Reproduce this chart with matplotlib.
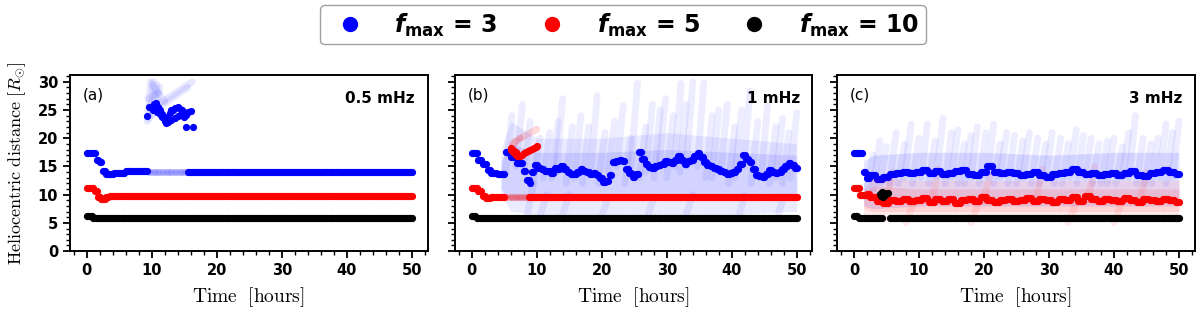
import numpy as np
import matplotlib
matplotlib.use("Agg")
import matplotlib.pyplot as plt
from matplotlib.font_manager import FontProperties
from matplotlib.lines import Line2D
from matplotlib.ticker import MultipleLocator

# ---------------- data ----------------
panel_tags = ["(a)", "(b)", "(c)"]
panel_freqs = ["0.5 mHz", "1 mHz", "3 mHz"]
legend_labels = [r"$\mathbfit{f}_{\mathbf{max}}$ = 3",
                 r"$\mathbfit{f}_{\mathbf{max}}$ = 5",
                 r"$\mathbfit{f}_{\mathbf{max}}$ = 10"]

# sampling of the simulated time series [hours]
time = np.arange(0, 50.01, 0.25)

# step-wise levels: value holds until the matching "end" time
a_black_lev = [6.3, 5.8]
a_black_end = [0.8, 51]
a_red_lev = [11.2, 10.6, 9.6, 9.3, 9.5, 9.7]
a_red_end = [1.2, 1.7, 2.2, 2.8, 3.3, 51]
a_blue_lev = [17.4, 16.2, 15.7, 14.2, 13.6, 13.9, 14.2, 14.1]
a_blue_end = [1.5, 1.9, 2.3, 3.0, 4.2, 6.0, 9.3, 51]
a_blue_faint = (9.3, 15.4)   # window where the main blue track is faint

# panel (a) blue cluster above 20 Rsun
a_clu_t = [9.2, 9.5, 10.0, 10.3, 10.6, 11.0, 11.3, 11.6, 12.0, 12.2, 12.5, 12.8,
           13.0, 13.3, 13.6, 14.0, 14.3, 14.6, 15.0, 15.3, 15.6, 16.0, 12.0, 12.5,
           13.0, 13.5, 14.0, 14.5, 15.0, 10.2, 10.8, 11.2, 11.5, 15.2, 16.3]
a_clu_r = [24.0, 25.5, 25.5, 26.0, 26.2, 25.5, 25.0, 24.3, 23.8, 22.7, 23.5, 24.5,
           25.0, 25.0, 25.3, 25.5, 25.2, 25.0, 24.5, 24.2, 24.6, 24.8, 23.0, 22.8,
           23.2, 23.5, 24.0, 24.2, 23.8, 25.0, 24.7, 24.3, 23.8, 22.0, 22.0]
# faint segments of panel (a)
a_seg_t0 = [9.3, 9.6, 10.0, 10.5, 11.0, 11.2, 10.0, 9.4]
a_seg_r0 = [23.0, 23.5, 24.0, 25.0, 26.0, 25.5, 29.5, 27.0]
a_seg_t1 = [9.8, 10.3, 10.8, 11.2, 16.2, 15.5, 12.0, 11.0]
a_seg_r1 = [30.0, 30.0, 29.5, 29.0, 30.0, 29.0, 26.5, 28.0]

b_black_lev = [6.3, 5.9, 5.8]
b_black_end = [0.6, 8.5, 51]
b_red_lev = [11.2, 10.6, 9.8, 9.4, 9.6, 9.5, 9.6]
b_red_end = [1.0, 1.6, 2.2, 3.0, 4.0, 5.0, 51]
b_red_faint = (5.0, 8.7)
b_red_clu_t = [6.0, 6.3, 6.6, 6.9, 7.2, 7.5, 7.8, 8.1, 8.4, 8.7, 9.0, 9.3, 9.6,
               9.9, 10.1, 6.1, 6.4, 6.8]
b_red_clu_r = [17.9, 17.6, 17.2, 16.9, 16.8, 16.9, 17.1, 17.3, 17.5, 17.7, 17.9,
               18.1, 18.3, 18.5, 18.6, 18.3, 17.9, 17.5]
b_red_seg_t0 = [6.2, 6.3, 7.5]
b_red_seg_r0 = [19.0, 18.3, 20.0]
b_red_seg_t1 = [7.5, 6.8, 10.0]
b_red_seg_r1 = [20.0, 19.5, 21.6]

b_blue_early_lev = [17.4, 16.2, 15.4, 14.3, 13.8, 13.6, 17.6, 16.6, 15.6, 14.2, 12.6]
b_blue_early_end = [1.0, 1.6, 2.3, 3.0, 4.0, 5.2, 5.8, 7.0, 7.8, 8.3, 9.0]
# half-hourly values of the blue track, t = 9 .. 50 h
b_blue_half = [12.0, 14.0, 15.2, 14.8, 14.6, 14.2, 14.2, 13.9, 14.8, 14.5, 15.0,
               14.6, 14.0, 13.7, 13.6, 14.1, 14.5, 14.2, 14.0, 13.6, 13.8, 13.4,
               13.0, 12.2, 12.5, 13.4, 15.8, 16.0, 16.2, 15.9, 14.5, 13.8, 13.2,
               13.6, 17.5, 16.4, 15.5, 14.9, 14.8, 15.1, 15.2, 15.5, 16.0, 15.7,
               15.6, 16.1, 16.8, 16.2, 15.4, 15.9, 16.2, 16.8, 17.3, 16.6, 15.8,
               15.3, 15.0, 14.7, 14.5, 14.2, 14.0, 13.7, 13.8, 14.1, 14.6, 15.4,
               17.0, 16.4, 15.8, 14.6, 13.5, 13.3, 13.2, 13.6, 14.3, 14.0, 13.8,
               14.1, 14.5, 15.0, 15.6, 15.2, 14.8]
# faint cloud: envelope and rising streaks (start time, low, high)
b_cloud_t = [4.5, 6, 10, 20, 30, 40, 50]
b_cloud_lo = [10.0, 7.0, 6.5, 6.5, 6.5, 6.5, 7.0]
b_cloud_hi = [18.0, 23.0, 20.0, 20.0, 21.0, 20.0, 19.0]
b_core_lo = [11.0, 9.0, 9.0, 9.0, 9.0, 9.0, 9.5]
b_core_hi = [16.0, 19.0, 17.5, 17.5, 18.0, 17.5, 17.0]
b_st_t = [5.2, 6.8, 8.0, 9.5, 11.0, 12.3, 13.0, 14.5, 15.8, 17.0, 18.3, 19.5, 21.0,
          22.3, 23.5, 24.5, 25.8, 26.8, 28.0, 28.8, 30.0, 31.2, 32.0, 33.0, 34.7,
          36.0, 37.0, 38.3, 39.5, 40.5, 41.8, 43.0, 44.5, 45.8, 46.8, 47.8, 49.0,
          8.5, 10.5, 14.0, 20.0, 27.0, 33.0, 41.0, 47.0]
b_st_lo = [14, 15, 14, 12, 13, 13, 14, 12, 13, 12, 14, 12, 14, 15, 12, 15, 13, 14,
           13, 15, 13, 15, 14, 15, 15, 13, 13, 14, 12, 13, 15, 12, 13, 12, 13, 12,
           13, 6.0, 6.0, 6.5, 6.2, 6.0, 6.5, 6.0, 6.0]
b_st_hi = [24, 26, 23, 20, 21, 23, 27, 22, 24, 22, 27.5, 21, 23, 25.8, 20, 29.7,
           22, 26, 25, 27, 24, 29.7, 26, 30, 29.8, 24, 25, 26, 22, 25, 28.4, 23,
           25.8, 22, 23.5, 21, 24.5, 12, 10, 10, 9.5, 9.5, 10, 9.8, 9.6]

c_black_lev = [6.3, 5.9, 5.8]
c_black_end = [0.6, 2.0, 51]
c_black_gap = (4.4, 5.3)
c_black_clu_t = [4.0, 4.2, 4.4, 4.6, 4.8, 5.0, 5.2, 4.3, 4.7]
c_black_clu_r = [10.2, 9.8, 9.6, 9.7, 9.9, 10.1, 10.3, 10.4, 10.3]
c_blue_early_lev = [17.4, 14.0]
c_blue_early_end = [1.4, 1.9]
# hourly values, t = 2 .. 50 h
c_blue_hourly = [13.0, 13.5, 12.8, 13.2, 13.6, 13.9, 14.1, 13.8, 14.0, 14.3, 13.9,
                 14.2, 13.6, 13.9, 14.2, 14.4, 13.7, 13.4, 14.0, 15.0, 14.1, 13.8,
                 14.0, 13.9, 13.5, 13.7, 14.1, 13.4, 13.2, 13.6, 13.9, 14.0, 14.5,
                 14.0, 13.6, 13.8, 13.4, 13.7, 13.9, 13.5, 13.8, 14.2, 13.5, 13.3,
                 13.8, 14.0, 14.3, 14.1, 13.7]
c_red_early_lev = [11.2, 10.0]
c_red_early_end = [1.0, 1.9]
c_red_hourly = [10.2, 9.6, 8.8, 8.6, 9.0, 8.9, 9.3, 8.8, 9.1, 9.4, 8.7, 9.2, 8.9,
                9.3, 8.6, 9.0, 9.2, 8.8, 9.5, 9.0, 8.7, 9.1, 9.3, 8.9, 9.0, 9.4,
                8.8, 9.2, 9.0, 8.7, 9.3, 9.1, 9.5, 8.9, 9.8, 9.2, 8.8, 9.3, 9.0,
                8.9, 9.4, 9.1, 8.7, 9.2, 9.0, 8.8, 9.3, 9.1, 8.7]
c_cloud_t = [1.5, 3, 10, 20, 30, 40, 50]
c_blue_lo = [8.0, 7.5, 8.0, 8.0, 8.0, 8.0, 8.0]
c_blue_hi = [16.0, 17.0, 17.5, 17.5, 17.0, 17.5, 17.5]
c_red_lo = [6.5, 5.5, 5.5, 5.5, 5.5, 5.5, 5.5]
c_red_hi = [11.0, 13.0, 12.5, 12.5, 12.5, 12.5, 12.5]
c_redcore_lo = [7.5, 7.0, 7.0, 7.0, 7.0, 7.0, 7.0]
c_redcore_hi = [10.5, 11.5, 11.0, 11.0, 11.0, 11.0, 11.0]
c_st_t = [2.0, 3.0, 4.0, 5.5, 6.8, 7.8, 9.0, 10.3, 11.5, 12.7, 14.0, 15.0, 16.0,
          17.0, 18.0, 19.3, 20.5, 21.5, 22.5, 23.7, 25.0, 26.0, 27.3, 28.5, 29.5,
          30.8, 32.0, 33.2, 34.3, 35.5, 36.7, 38.0, 39.0, 40.3, 41.3, 42.3, 43.5,
          44.7, 45.8, 47.0, 48.0, 49.0]
c_st_lo = [11, 11, 12, 12, 12, 13, 12, 13, 12, 13, 12, 13, 12, 12, 13, 12, 13, 12,
           13, 12, 12, 13, 12, 12, 13, 12, 12, 13, 12, 13, 12, 12, 12, 12, 13, 13,
           12, 12, 12, 13, 12, 13]
c_st_hi = [17, 19.5, 18.5, 21, 19, 22.5, 20, 22.5, 19.5, 23.5, 21, 21.5, 19, 20.5,
           22, 21, 22.5, 19, 21, 20.5, 19.5, 21, 20, 19, 21, 20, 19, 21.5, 20.5,
           20, 19, 19.5, 20, 18.5, 21, 24, 20, 19, 20, 22.5, 21, 23]
c_rst_t = [5, 12, 20, 28, 36, 44, 8, 18, 33, 40]
c_rst_lo = [9, 9, 9, 9, 9, 9, 5, 5, 5, 5]
c_rst_hi = [14, 14.5, 14, 14.5, 15, 14, 8, 8, 8, 8]

BLUE, RED, BLACK = "#0000ff", "#ff0000", "#000000"
MS = 27          # marker area of the main tracks
TILT = 1.0       # hours spanned by one faint streak


def steps(levels, ends):
    idx = np.searchsorted(ends, time, side="right")
    return np.asarray(levels)[np.minimum(idx, len(levels) - 1)]


def tracked(start, values, step, early_lev, early_end):
    lev = list(early_lev) + list(values)
    end = list(early_end) + list(start + step / 2 + step * np.arange(len(values)))
    end[-1] = 51
    return steps(lev, end)


def inside(win):
    return (time > win[0]) & (time < win[1])


def streaks(ax, t0, lo, hi, color, alpha):
    for t, a, b in zip(t0, lo, hi):
        ax.plot([t, t + TILT], [a, b], color=color, alpha=alpha, lw=5,
                solid_capstyle="round", zorder=1)


def segments(ax, t0, r0, t1, r1, color, alpha):
    for a, b, c, d in zip(t0, r0, t1, r1):
        ax.plot([a, c], [b, d], color=color, alpha=alpha, lw=5,
                solid_capstyle="round", zorder=1)


plt.rcParams["font.family"] = ["DejaVu Sans"]
fig = plt.figure(figsize=(12, 3.1), dpi=100)
lefts = [0.0583, 0.379, 0.6975]
axes = [fig.add_axes([l, 0.19, 0.298, 0.568]) for l in lefts]

# ---- panel (a)
ax = axes[0]
segments(ax, a_seg_t0, a_seg_r0, a_seg_t1, a_seg_r1, BLUE, 0.09)
ab = steps(a_blue_lev, a_blue_end)
fa = inside(a_blue_faint)
ax.scatter(time[fa], ab[fa], s=MS, color=BLUE, alpha=0.12, lw=0, zorder=2)
ax.scatter(time[~fa], ab[~fa], s=MS, color=BLUE, lw=0, zorder=3)
ax.scatter(a_clu_t, a_clu_r, s=MS, color=BLUE, lw=0, zorder=3)
ax.scatter(time, steps(a_red_lev, a_red_end), s=MS, color=RED, lw=0, zorder=4)
ax.scatter(time, steps(a_black_lev, a_black_end), s=MS, color=BLACK, lw=0, zorder=5)

# ---- panel (b)
ax = axes[1]
ax.fill_between(b_cloud_t, b_cloud_lo, b_cloud_hi, color=BLUE, alpha=0.08, lw=0, zorder=1)
ax.fill_between(b_cloud_t, b_core_lo, b_core_hi, color=BLUE, alpha=0.10, lw=0, zorder=1)
streaks(ax, b_st_t, b_st_lo, b_st_hi, BLUE, 0.07)
bb = tracked(9, b_blue_half, 0.5, b_blue_early_lev, b_blue_early_end)
ax.scatter(time, bb, s=MS, color=BLUE, lw=0, zorder=3)
segments(ax, b_red_seg_t0, b_red_seg_r0, b_red_seg_t1, b_red_seg_r1, RED, 0.15)
br = steps(b_red_lev, b_red_end)
fr = inside(b_red_faint)
ax.scatter(time[fr], br[fr], s=MS, color=RED, alpha=0.15, lw=0, zorder=3)
ax.scatter(time[~fr], br[~fr], s=MS, color=RED, lw=0, zorder=4)
ax.scatter(b_red_clu_t, b_red_clu_r, s=MS, color=RED, lw=0, zorder=4)
ax.scatter(time, steps(b_black_lev, b_black_end), s=MS, color=BLACK, lw=0, zorder=5)

# ---- panel (c)
ax = axes[2]
ax.fill_between(c_cloud_t, c_blue_lo, c_blue_hi, color=BLUE, alpha=0.11, lw=0, zorder=1)
streaks(ax, c_st_t, c_st_lo, c_st_hi, BLUE, 0.07)
cb = tracked(2, c_blue_hourly, 1.0, c_blue_early_lev, c_blue_early_end)
ax.scatter(time, cb, s=MS, color=BLUE, lw=0, zorder=3)
ax.fill_between(c_cloud_t, c_red_lo, c_red_hi, color=RED, alpha=0.08, lw=0, zorder=3.5)
ax.fill_between(c_cloud_t, c_redcore_lo, c_redcore_hi, color=RED, alpha=0.10, lw=0, zorder=3.5)
streaks(ax, c_rst_t, c_rst_lo, c_rst_hi, RED, 0.08)
cr = tracked(2, c_red_hourly, 1.0, c_red_early_lev, c_red_early_end)
ax.scatter(time, cr, s=MS, color=RED, lw=0, zorder=4)
ck = steps(c_black_lev, c_black_end)
gk = ~inside(c_black_gap)
ax.scatter(time[gk], ck[gk], s=MS, color=BLACK, lw=0, zorder=5)
ax.scatter(c_black_clu_t, c_black_clu_r, s=MS, color=BLACK, lw=0, zorder=5)

# ---- common styling
for i, ax in enumerate(axes):
    ax.set_xlim(-2.6, 52.4)
    ax.set_ylim(0, 31.2)
    ax.xaxis.set_major_locator(MultipleLocator(10))
    ax.xaxis.set_minor_locator(MultipleLocator(2))
    ax.yaxis.set_major_locator(MultipleLocator(5))
    ax.yaxis.set_minor_locator(MultipleLocator(1))
    ax.tick_params(which="major", direction="out", length=5, width=1.3,
                   labelsize=10.5)
    ax.tick_params(which="minor", direction="out", length=3, width=1.0)
    for lab in ax.get_xticklabels() + ax.get_yticklabels():
        lab.set_fontweight("bold")
    for sp in ax.spines.values():
        sp.set_linewidth(1.4)
    if i > 0:
        ax.set_yticklabels([])
    ax.set_xlabel(r"$\mathrm{Time}\ \ [\mathrm{hours}]$", fontsize=14,
                  math_fontfamily="cm", labelpad=5)
    ax.text(0.035, 0.93, panel_tags[i], transform=ax.transAxes, fontsize=11,
            va="top", ha="left")
    ax.text(0.965, 0.91, panel_freqs[i], transform=ax.transAxes, fontsize=11,
            fontweight="bold", va="top", ha="right")

axes[0].set_ylabel(r"$\mathrm{Heliocentric\ distance}\ [R_{\odot}]$",
                   fontsize=13, math_fontfamily="cm", labelpad=7)

handles = [Line2D([], [], ls="none", marker="o", markersize=10, color=c)
           for c in (BLUE, RED, BLACK)]
lp = FontProperties(family="DejaVu Sans", weight="bold", size=17,
                    math_fontfamily="dejavusans")
fig.legend(handles, legend_labels, loc="upper center", ncol=3,
           bbox_to_anchor=(0.519, 0.99), prop=lp, frameon=True,
           edgecolor="#888888", fancybox=True, columnspacing=1.3,
           handletextpad=0.9, borderpad=0.25, borderaxespad=0.1)

fig.savefig("out.png", dpi=100)
